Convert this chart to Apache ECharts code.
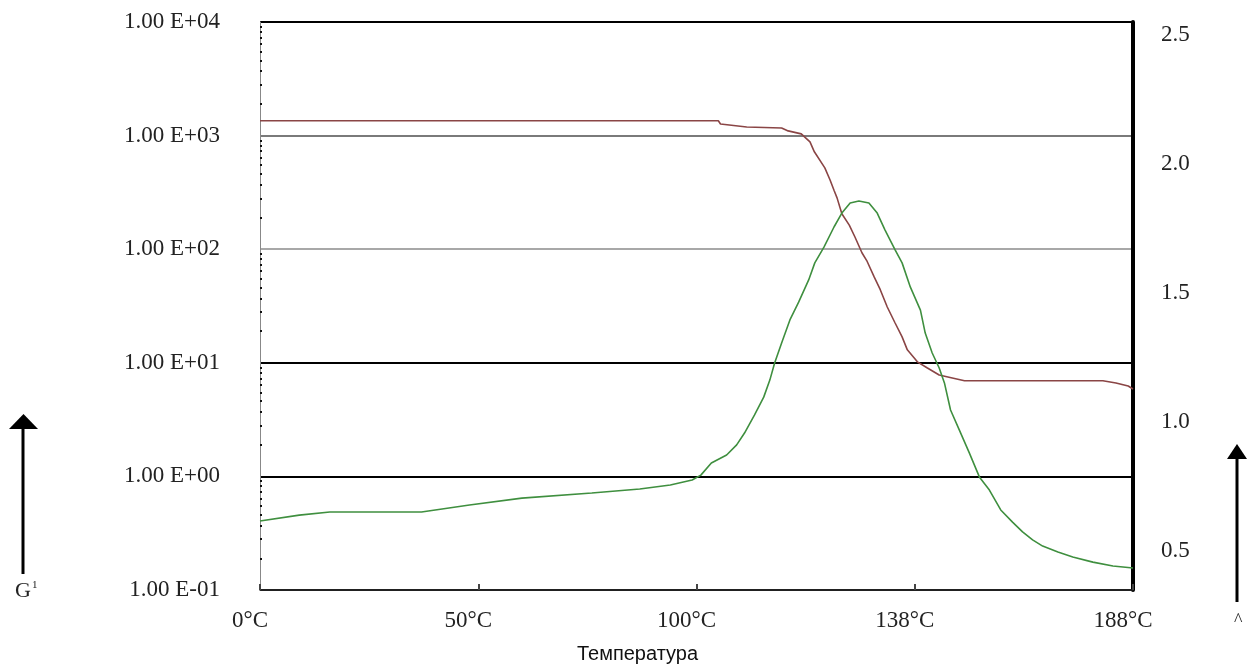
<!DOCTYPE html>
<html>
<head>
<meta charset="utf-8">
<script src="https://cdn.jsdelivr.net/npm/echarts@6/dist/echarts.min.js"></script>
<style>
html,body{margin:0;padding:0;background:#fff;overflow:hidden;}
#chart{width:1247px;height:664px;}
</style>
</head>
<body>
<div id="chart"></div>
<script>
// X axis: evenly spaced tick positions (0..200) carrying these temperature labels
const xTickLabels = ['0°C', '50°C', '100°C', '138°C', '188°C'];
const xTickPositions = [0, 50, 100, 150, 200];
const xAxisTitle = 'Температура';

// Left axis (log): storage modulus G'
const modulusPos = [0, 105, 105.5, 111.5, 119.5, 121, 124, 126, 127, 129.4, 130.6, 131.5, 132.2, 133.3, 135, 136.3, 137.9, 139.1, 140.7, 142.1, 143.7, 145.5, 147.1, 148.3, 150.6, 152.9, 155.6, 158.6, 161.4, 193.1, 196.1, 198.9, 200];
const modulusValues = [1350, 1350, 1265, 1190, 1167, 1100, 1035, 880, 720, 520, 407, 330, 283, 205, 163, 128, 93, 78, 57, 44, 31, 22.4, 16.9, 13, 10.2, 9.0, 7.8, 7.35, 6.96, 6.96, 6.64, 6.25, 5.88];

// Right axis (linear): loss factor curve
const dampingPos = [0, 9, 16, 37, 48, 60, 76, 87, 94, 99, 101, 103.4, 106.9, 109.2, 111, 113.3, 115.4, 116.8, 117.9, 119.5, 121.4, 123.4, 125.7, 127.1, 129.2, 131.5, 133.3, 135.2, 137.2, 139.5, 141.4, 143.2, 145.5, 147.1, 149, 151.3, 152.4, 154, 155.6, 156.8, 158.2, 160.2, 162.5, 164.8, 167.1, 169.7, 172.4, 174.7, 177, 179.3, 182.8, 186.2, 190.8, 195.4, 200];
const dampingValues = [0.617, 0.64, 0.652, 0.652, 0.679, 0.706, 0.726, 0.741, 0.757, 0.776, 0.795, 0.842, 0.873, 0.912, 0.958, 1.028, 1.097, 1.163, 1.229, 1.307, 1.396, 1.465, 1.551, 1.617, 1.678, 1.756, 1.81, 1.849, 1.857, 1.849, 1.81, 1.744, 1.667, 1.617, 1.523, 1.434, 1.345, 1.268, 1.21, 1.152, 1.047, 0.97, 0.881, 0.788, 0.737, 0.66, 0.613, 0.575, 0.544, 0.52, 0.497, 0.478, 0.458, 0.443, 0.435];

const leftMin = 0.1, leftMax = 10000;
const rightMin = 0.35, rightMax = 2.55;

const modulusData = modulusPos.map((x, i) => [x, modulusValues[i]]);
const dampingData = dampingPos.map((x, i) => [x, dampingValues[i]]);

const serif = '"Liberation Serif", "Times New Roman", serif';
const sans = '"Liberation Sans", Arial, sans-serif';

const chart = echarts.init(document.getElementById('chart'), null, {renderer: 'canvas', width: 1247, height: 664});
chart.setOption({
  animation: false,
  backgroundColor: '#ffffff',
  grid: {left: 260, right: 114, top: 22, bottom: 74, containLabel: false, outerBoundsMode: 'none'},
  xAxis: {
    type: 'value',
    min: xTickPositions[0],
    max: xTickPositions[xTickPositions.length - 1],
    interval: 50,
    name: xAxisTitle,
    nameLocation: 'middle',
    nameGap: 54,
    nameTextStyle: {fontFamily: sans, fontSize: 20, color: '#111', padding: [0, 118, 0, 0]},
    axisLine: {lineStyle: {color: '#222', width: 1.5}},
    axisTick: {show: true, inside: true, length: 6, lineStyle: {color: '#444', width: 2}},
    axisLabel: {
      fontFamily: serif, fontSize: 23, color: '#222', margin: 19,
      padding: [0, 20, 0, 0],
      formatter: v => xTickLabels[xTickPositions.indexOf(Math.round(v))] || ''
    },
    splitLine: {show: false}
  },
  yAxis: [
    {
      type: 'log',
      logBase: 10,
      min: leftMin,
      max: leftMax,
      position: 'left',
      axisLine: {show: true, lineStyle: {color: '#888', width: 1}},
      axisTick: {show: false, inside: true},
      minorTick: {show: true, splitNumber: 10, length: 2, lineStyle: {color: '#111', width: 2}},
      axisLabel: {
        fontFamily: serif, fontSize: 23, color: '#222', margin: 40,
        formatter: v => {
          const e = Math.round(Math.log10(v));
          return '1.00 E' + (e < 0 ? '-' : '+') + String(Math.abs(e)).padStart(2, '0');
        }
      },
      splitLine: {
        show: true,
        lineStyle: {color: ['#222', '#000', '#000', '#a8a8a8', '#7a7a7a', '#000'], width: 2}
      }
    },
    {
      type: 'value',
      min: rightMin,
      max: rightMax,
      splitNumber: 5,
      position: 'right',
      axisLine: {show: true, lineStyle: {color: '#000', width: 4}},
      axisTick: {show: false},
      axisLabel: {
        fontFamily: serif, fontSize: 23, color: '#222', margin: 28,
        showMinLabel: false, showMaxLabel: false,
        formatter: v => v.toFixed(1)
      },
      splitLine: {show: false}
    }
  ],
  series: [
    {
      type: 'line',
      yAxisIndex: 0,
      data: modulusData,
      showSymbol: false,
      lineStyle: {color: '#8a4545', width: 1.6},
      z: 3
    },
    {
      type: 'line',
      yAxisIndex: 1,
      data: dampingData,
      showSymbol: false,
      lineStyle: {color: '#3f8f3f', width: 1.6},
      z: 4
    }
  ],
  graphic: [
    {type: 'line', shape: {x1: 23, y1: 574, x2: 23, y2: 428}, style: {stroke: '#000', lineWidth: 3}},
    {type: 'polygon', shape: {points: [[9, 429], [38, 429], [23.5, 414]]}, style: {fill: '#000'}},
    {type: 'text', left: 15, top: 580, style: {
      text: 'G{s|1}', font: '22px ' + serif, fill: '#222',
      rich: {s: {fontSize: 11, fontFamily: serif, fill: '#222', verticalAlign: 'top', padding: [0, 0, 10, 1]}}
    }},
    {type: 'line', shape: {x1: 1237, y1: 602, x2: 1237, y2: 458}, style: {stroke: '#000', lineWidth: 3}},
    {type: 'polygon', shape: {points: [[1227, 459], [1247, 459], [1237, 444]]}, style: {fill: '#000'}},
    {type: 'text', left: 1234, top: 612, style: {text: '^', font: '18px ' + serif, fill: '#222'}}
  ]
});
</script>
</body>
</html>
